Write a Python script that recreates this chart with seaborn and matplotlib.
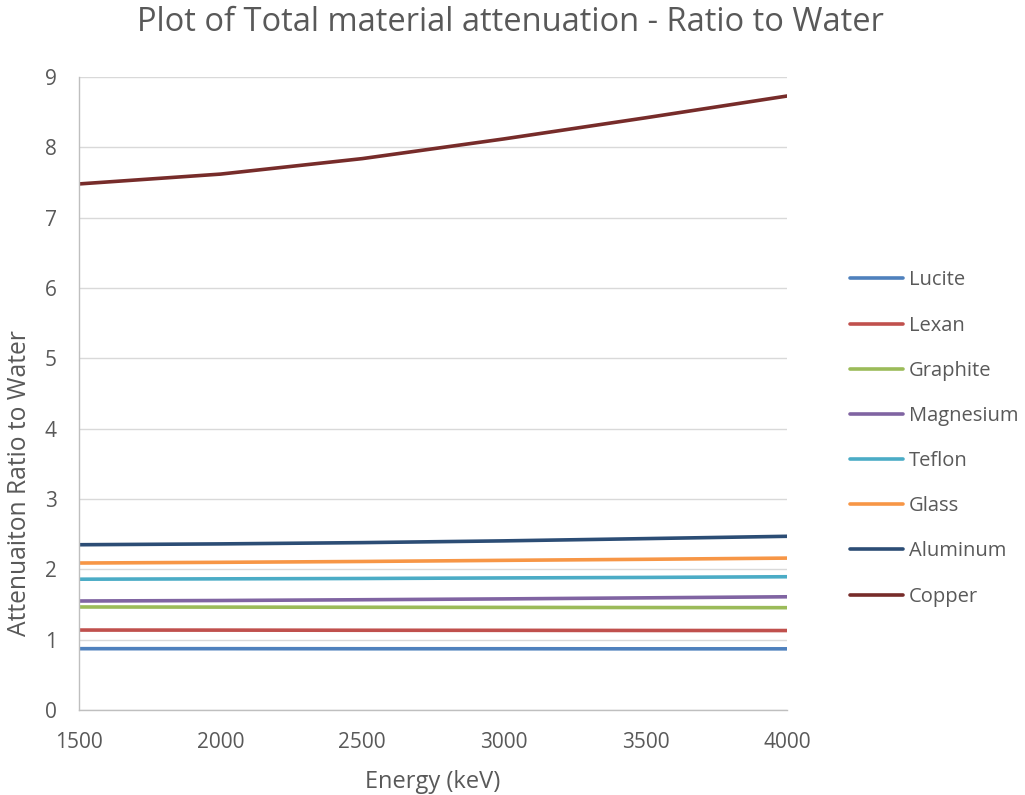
import matplotlib
matplotlib.use("Agg")
import matplotlib.pyplot as plt
import seaborn as sns
import pandas as pd

energy = [1500, 2000, 2500, 3000, 3500, 4000]
lucite = [0.872, 0.872, 0.871, 0.871, 0.870, 0.870]
lexan = [1.137, 1.136, 1.134, 1.133, 1.131, 1.130]
graphite = [1.465, 1.463, 1.461, 1.459, 1.457, 1.455]
magnesium = [1.550, 1.557, 1.568, 1.580, 1.595, 1.610]
teflon = [1.860, 1.865, 1.870, 1.878, 1.885, 1.895]
glass = [2.090, 2.100, 2.112, 2.128, 2.143, 2.160]
aluminum = [2.350, 2.362, 2.380, 2.405, 2.437, 2.470]
copper = [7.48, 7.62, 7.84, 8.12, 8.42, 8.73]

materials = ["Lucite", "Lexan", "Graphite", "Magnesium", "Teflon", "Glass", "Aluminum", "Copper"]
series = [lucite, lexan, graphite, magnesium, teflon, glass, aluminum, copper]
colors = ["#4F81BD", "#C0504D", "#9BBB59", "#8064A2", "#4BACC6", "#F79646", "#2C4D75", "#772C2A"]

x_ticks = [1500, 2000, 2500, 3000, 3500, 4000]
y_ticks = [0, 1, 2, 3, 4, 5, 6, 7, 8, 9]

rows = []
for name, vals in zip(materials, series):
    for e, v in zip(energy, vals):
        rows.append({"Energy": e, "Ratio": v, "Material": name})
df = pd.DataFrame(rows)

sns.set_theme(style="white")
plt.rcParams["font.family"] = ["Open Sans", "DejaVu Sans"]
text_color = "#595959"

fig = plt.figure(figsize=(10.25, 7.95), dpi=100)
ax = fig.add_axes([0.0771, 0.1069, 0.6907, 0.7962])

sns.lineplot(data=df, x="Energy", y="Ratio", hue="Material", hue_order=materials,
             palette=dict(zip(materials, colors)), linewidth=2.6, ax=ax, legend=True)

ax.set_xlim(1500, 4000)
ax.set_ylim(0, 9)
ax.set_xticks(x_ticks)
ax.set_yticks(y_ticks)
ax.set_xticklabels([str(t) for t in x_ticks])
ax.set_yticklabels([str(t) for t in y_ticks])
ax.yaxis.grid(True, color="#D9D9D9", linewidth=1.0)
ax.xaxis.grid(False)
ax.set_axisbelow(True)
for s in ["top", "right"]:
    ax.spines[s].set_visible(False)
for s in ["left", "bottom"]:
    ax.spines[s].set_color("#BFBFBF")
    ax.spines[s].set_linewidth(1.0)
ax.tick_params(axis="both", length=0, labelsize=15, labelcolor=text_color)
ax.tick_params(axis="x", pad=16)
ax.tick_params(axis="y", pad=16)

ax.set_xlabel("Energy (keV)", fontsize=17, color=text_color, labelpad=12)
ax.set_ylabel("Attenuaiton Ratio to Water", fontsize=17.7, color=text_color)
ax.yaxis.set_label_coords(-0.066, 0.359)
fig.text(0.4976, 0.972, "Plot of Total material attenuation - Ratio to Water",
         ha="center", va="center", fontsize=23.5, color=text_color)

handles, labels = ax.get_legend_handles_labels()
ax.legend(handles, labels, loc="center left", bbox_to_anchor=(0.812, 0.4484),
          bbox_transform=fig.transFigure, frameon=False, fontsize=14.5,
          labelcolor=text_color, handlelength=2.6, handletextpad=0.3,
          labelspacing=1.25)

fig.savefig("out.png", dpi=100)
